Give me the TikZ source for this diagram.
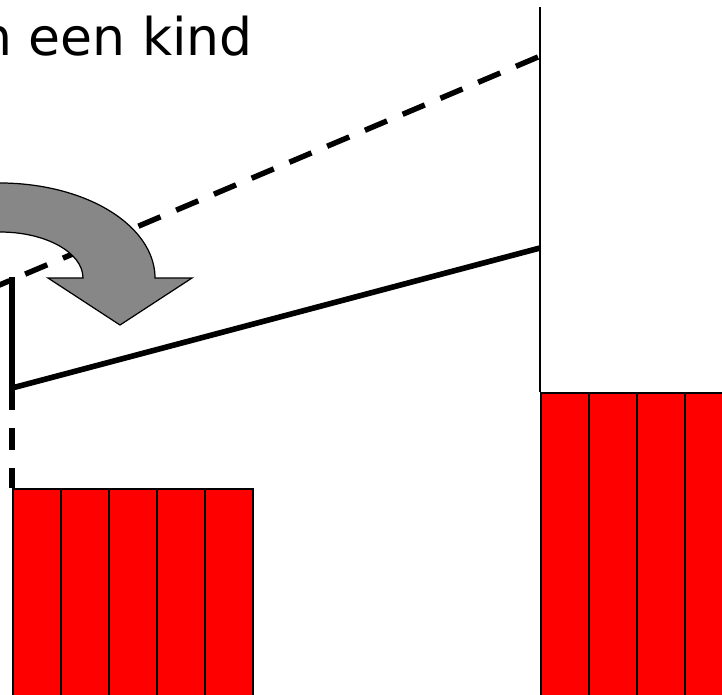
\documentclass[tikz,border=0pt]{standalone}
\usepackage{fontspec}
\setsansfont{DejaVu Sans}
\definecolor{barred}{HTML}{FF0000}
\definecolor{turngray}{HTML}{878787}

\begin{document}
\begin{tikzpicture}[x=0.02cm,y=-0.02cm,font=\sffamily]
  \tikzstyle{title}=[font=\fontsize{29.6}{35}\selectfont\sffamily, text=black, inner sep=0pt, anchor=base west]
  \tikzstyle{bar}=[draw=black, line width=1.1pt, fill=barred, inner sep=0pt, anchor=north west, minimum width=0.96cm]
  \tikzstyle{axisline}=[draw=black, line width=0.9pt]
  \tikzstyle{thickline}=[draw=black, line width=3.2pt]
  \tikzstyle{dashline}=[draw=black, line width=3.1pt, dash pattern=on 0.48cm off 0.34cm]
  \tikzstyle{turnarrow}=[draw=black, line width=0.7pt, fill=turngray]

  \path[use as bounding box] (0,0) rectangle (722,694);
  \clip (0,0) rectangle (722,694);

  \node[title] (kindtext) at (-21,55) {n een kind};

  % red bars
  \foreach \x/\i in {12/1,60/2,108/3,156/4,204/5} {
    \node[bar, minimum height=4.4cm] (lb\i) at (\x,488) {};
  }
  \foreach \x/\i in {540/1,588/2,636/3,684/4} {
    \node[bar, minimum height=6.2cm] (rb\i) at (\x,392) {};
  }

  % lines
  \coordinate (axtop) at (540,7);
  \coordinate (dashend) at (538,57);
  \coordinate (dashleft) at (-10,289);
  \coordinate (solidend) at (540,248);
  \coordinate (corner) at (12,388);
  \coordinate (stemtop) at (12,277);
  \draw[axisline] (axtop) -- (rb1.north west);
  \draw[dashline] (dashend) -- (dashleft);
  \draw[thickline, line join=miter] (stemtop) -- (corner) -- (solidend);
  \draw[dashline, dash pattern=on 0.44cm off 0.36cm] (corner) -- (lb1.north west);

  % turning arrow
  \coordinate (turnc) at (0,278);
  \filldraw[turnarrow] ([shift={(-120:155 and 95)}]turnc)
    arc[start angle=-120, end angle=0, x radius=155, y radius=95]
    -- (192,278) -- (120,325) -- (48,278) -- (83,278)
    arc[start angle=0, end angle=-120, x radius=83, y radius=46] -- cycle;
\end{tikzpicture}
\end{document}
